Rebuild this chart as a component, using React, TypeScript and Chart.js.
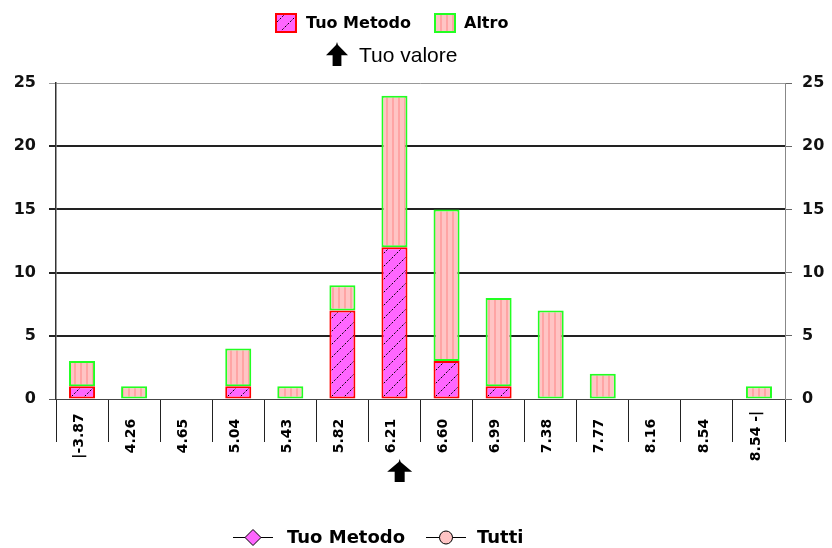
import React, { useEffect, useRef } from 'react';
import { Chart, registerables } from 'chart.js';

Chart.register(...registerables);

// ---------- data ----------
const categories = ['|-3.87', '4.26', '4.65', '5.04', '5.43', '5.82', '6.21', '6.60', '6.99', '7.38', '7.77', '8.16', '8.54', '8.54 -|'];
const tuoMetodo = [1, 0, 0, 1, 0, 7, 12, 3, 1, 0, 0, 0, 0, 0];
const altro = [2, 1, 0, 3, 1, 2, 12, 12, 7, 7, 2, 0, 0, 1];
const yMin = 0;
const yMax = 25;
const yStep = 5;
const seriesLabels = ['Tuo Metodo', 'Altro'];
const valueLabel = 'Tuo valore';
const bottomLegendLabels = ['Tuo Metodo', 'Tutti'];
const tuoValoreCategory = 6; // bin of "Tuo valore"
const tuoValoreFraction = 0.1; // position inside the bin

// ---------- styles ----------
const MAGENTA = '#FF66FF';
const PINK = '#FFC4C4';
const RED = '#FF0000';
const GREEN = '#22FF22';
const BOLD = '"DejaVu Sans", sans-serif';

function makeHatch(): CanvasPattern | string {
  const c = document.createElement('canvas');
  c.width = 13;
  c.height = 13;
  const g = c.getContext('2d');
  if (!g) return MAGENTA;
  g.fillStyle = MAGENTA;
  g.fillRect(0, 0, 13, 13);
  g.strokeStyle = '#000';
  g.lineWidth = 1;
  g.setLineDash([2, 1.6]);
  g.beginPath();
  g.moveTo(-1, 14);
  g.lineTo(14, -1);
  g.stroke();
  return g.createPattern(c, 'repeat') || MAGENTA;
}

function makeStripes(): CanvasPattern | string {
  const c = document.createElement('canvas');
  c.width = 6;
  c.height = 6;
  const g = c.getContext('2d');
  if (!g) return PINK;
  g.fillStyle = PINK;
  g.fillRect(0, 0, 6, 6);
  g.fillStyle = '#FFA4A4';
  g.fillRect(2, 0, 2, 6);
  return g.createPattern(c, 'repeat') || PINK;
}

function drawBlockArrow(ctx: CanvasRenderingContext2D, cx: number, top: number, w: number, h: number) {
  const headH = h * 0.55;
  const stem = w * 0.4;
  ctx.beginPath();
  ctx.moveTo(cx, top);
  ctx.lineTo(cx + 1, top + 3);
  ctx.lineTo(cx + w / 2, top + headH);
  ctx.lineTo(cx + stem / 2, top + headH);
  ctx.lineTo(cx + stem / 2, top + h);
  ctx.lineTo(cx - stem / 2, top + h);
  ctx.lineTo(cx - stem / 2, top + headH);
  ctx.lineTo(cx - w / 2, top + headH);
  ctx.lineTo(cx - 1, top + 3);
  ctx.closePath();
  ctx.fillStyle = '#000';
  ctx.fill();
}

export default function App() {
  const ref = useRef<HTMLCanvasElement | null>(null);

  useEffect(() => {
    const canvas = ref.current;
    if (!canvas) return;
    const hatch = makeHatch();
    const stripes = makeStripes();

    const decor = {
      id: 'decor',
      afterDraw(chart: any) {
        const ctx: CanvasRenderingContext2D = chart.ctx;
        const xs = chart.scales.x;
        ctx.save();

        // x tick labels, rotated and centred on a common line
        ctx.font = 'bold 14px ' + BOLD;
        ctx.fillStyle = '#000';
        ctx.textAlign = 'center';
        ctx.textBaseline = 'middle';
        categories.forEach((lab, i) => {
          const x = xs.getPixelForTick(i) - 3;
          ctx.save();
          ctx.translate(x, 436);
          ctx.rotate(-Math.PI / 2);
          ctx.fillText(lab, 0, 0);
          ctx.restore();
        });

        // arrow marking "Tuo valore"
        const step = xs.getPixelForTick(1) - xs.getPixelForTick(0);
        const ax = xs.getPixelForTick(tuoValoreCategory) + tuoValoreFraction * step;
        drawBlockArrow(ctx, ax, 459, 25, 23);

        // top legend
        ctx.textAlign = 'left';
        ctx.font = 'bold 16px ' + BOLD;
        ctx.fillStyle = hatch as any;
        ctx.fillRect(275, 13, 22, 20);
        ctx.strokeStyle = RED;
        ctx.lineWidth = 2;
        ctx.strokeRect(276, 14, 20, 18);
        ctx.fillStyle = '#000';
        ctx.fillText(seriesLabels[0], 306, 24);

        ctx.fillStyle = stripes as any;
        ctx.fillRect(434, 13, 22, 20);
        ctx.strokeStyle = GREEN;
        ctx.strokeRect(435, 14, 20, 18);
        ctx.fillStyle = '#000';
        ctx.fillText(seriesLabels[1], 464, 24);

        drawBlockArrow(ctx, 337, 42, 22, 24);
        ctx.font = '21px "Liberation Sans", Arial, sans-serif';
        ctx.fillStyle = '#000';
        ctx.fillText(valueLabel, 359, 56);

        // bottom legend
        const by = 537;
        ctx.strokeStyle = '#000';
        ctx.lineWidth = 1;
        ctx.beginPath();
        ctx.moveTo(233, by + 0.5);
        ctx.lineTo(273, by + 0.5);
        ctx.stroke();
        ctx.beginPath();
        ctx.moveTo(253, by - 7.5);
        ctx.lineTo(261, by + 0.5);
        ctx.lineTo(253, by + 8.5);
        ctx.lineTo(245, by + 0.5);
        ctx.closePath();
        ctx.fillStyle = MAGENTA;
        ctx.fill();
        ctx.stroke();
        ctx.font = 'bold 18px ' + BOLD;
        ctx.fillStyle = '#000';
        ctx.fillText(bottomLegendLabels[0], 287, by + 1);

        ctx.beginPath();
        ctx.moveTo(426, by + 0.5);
        ctx.lineTo(466, by + 0.5);
        ctx.stroke();
        ctx.beginPath();
        ctx.arc(446, by + 0.5, 6.5, 0, Math.PI * 2);
        ctx.fillStyle = '#FFC4C4';
        ctx.fill();
        ctx.stroke();
        ctx.fillStyle = '#000';
        ctx.fillText(bottomLegendLabels[1], 477, by + 1);

        ctx.restore();
      },
    };

    const chart = new Chart(canvas, {
      type: 'bar',
      data: {
        labels: categories,
        datasets: [
          {
            label: seriesLabels[0],
            data: tuoMetodo,
            backgroundColor: hatch as any,
            borderColor: RED,
            borderWidth: 2,
            borderSkipped: false,
            stack: 's',
            barPercentage: 0.5,
            categoryPercentage: 1,
          },
          {
            label: seriesLabels[1],
            data: altro,
            backgroundColor: stripes as any,
            borderColor: GREEN,
            borderWidth: 2,
            borderSkipped: false,
            stack: 's',
            barPercentage: 0.5,
            categoryPercentage: 1,
          },
        ],
      },
      options: {
        responsive: false,
        animation: false,
        layout: { padding: { top: 83, left: 0, right: 0, bottom: 0 } },
        plugins: {
          legend: { display: false },
          tooltip: { enabled: false },
          title: { display: false },
        },
        scales: {
          x: {
            stacked: true,
            offset: true,
            grid: {
              display: true,
              offset: true,
              drawOnChartArea: false,
              drawTicks: true,
              tickLength: 43,
              color: '#222',
            },
            border: { display: true, color: '#444' },
            ticks: { display: false },
            afterFit: (s: any) => {
              s.height = 149;
            },
          },
          y: {
            stacked: true,
            position: 'left',
            min: yMin,
            max: yMax,
            ticks: {
              stepSize: yStep,
              padding: 13,
              color: '#111',
              font: { family: BOLD, size: 16, weight: 'bold' },
            },
            grid: {
              color: (c: any) => (c.tick && c.tick.value === yMax ? '#999' : c.tick && c.tick.value === 0 ? '#555' : '#222'),
              lineWidth: (c: any) => (c.tick && (c.tick.value === yMax || c.tick.value === 0) ? 1 : 2),
              tickLength: 7,
            },
            border: { display: true, color: '#333', width: 1.5 },
            afterFit: (s: any) => {
              s.width = 56;
            },
          },
          y2: {
            position: 'right',
            min: yMin,
            max: yMax,
            ticks: {
              stepSize: yStep,
              padding: 10,
              color: '#111',
              font: { family: BOLD, size: 16, weight: 'bold' },
            },
            grid: { drawOnChartArea: false, tickLength: 7, color: '#666' },
            border: { display: true, color: '#888' },
            afterFit: (s: any) => {
              s.width = 47;
            },
          },
        },
      } as any,
      plugins: [decor],
    });

    return () => chart.destroy();
  }, []);

  return (
    <div style={{ position: 'fixed', left: 0, top: 0, width: 832, height: 548, background: '#fff' }}>
      <canvas ref={ref} width={832} height={548} style={{ display: 'block' }} />
    </div>
  );
}
